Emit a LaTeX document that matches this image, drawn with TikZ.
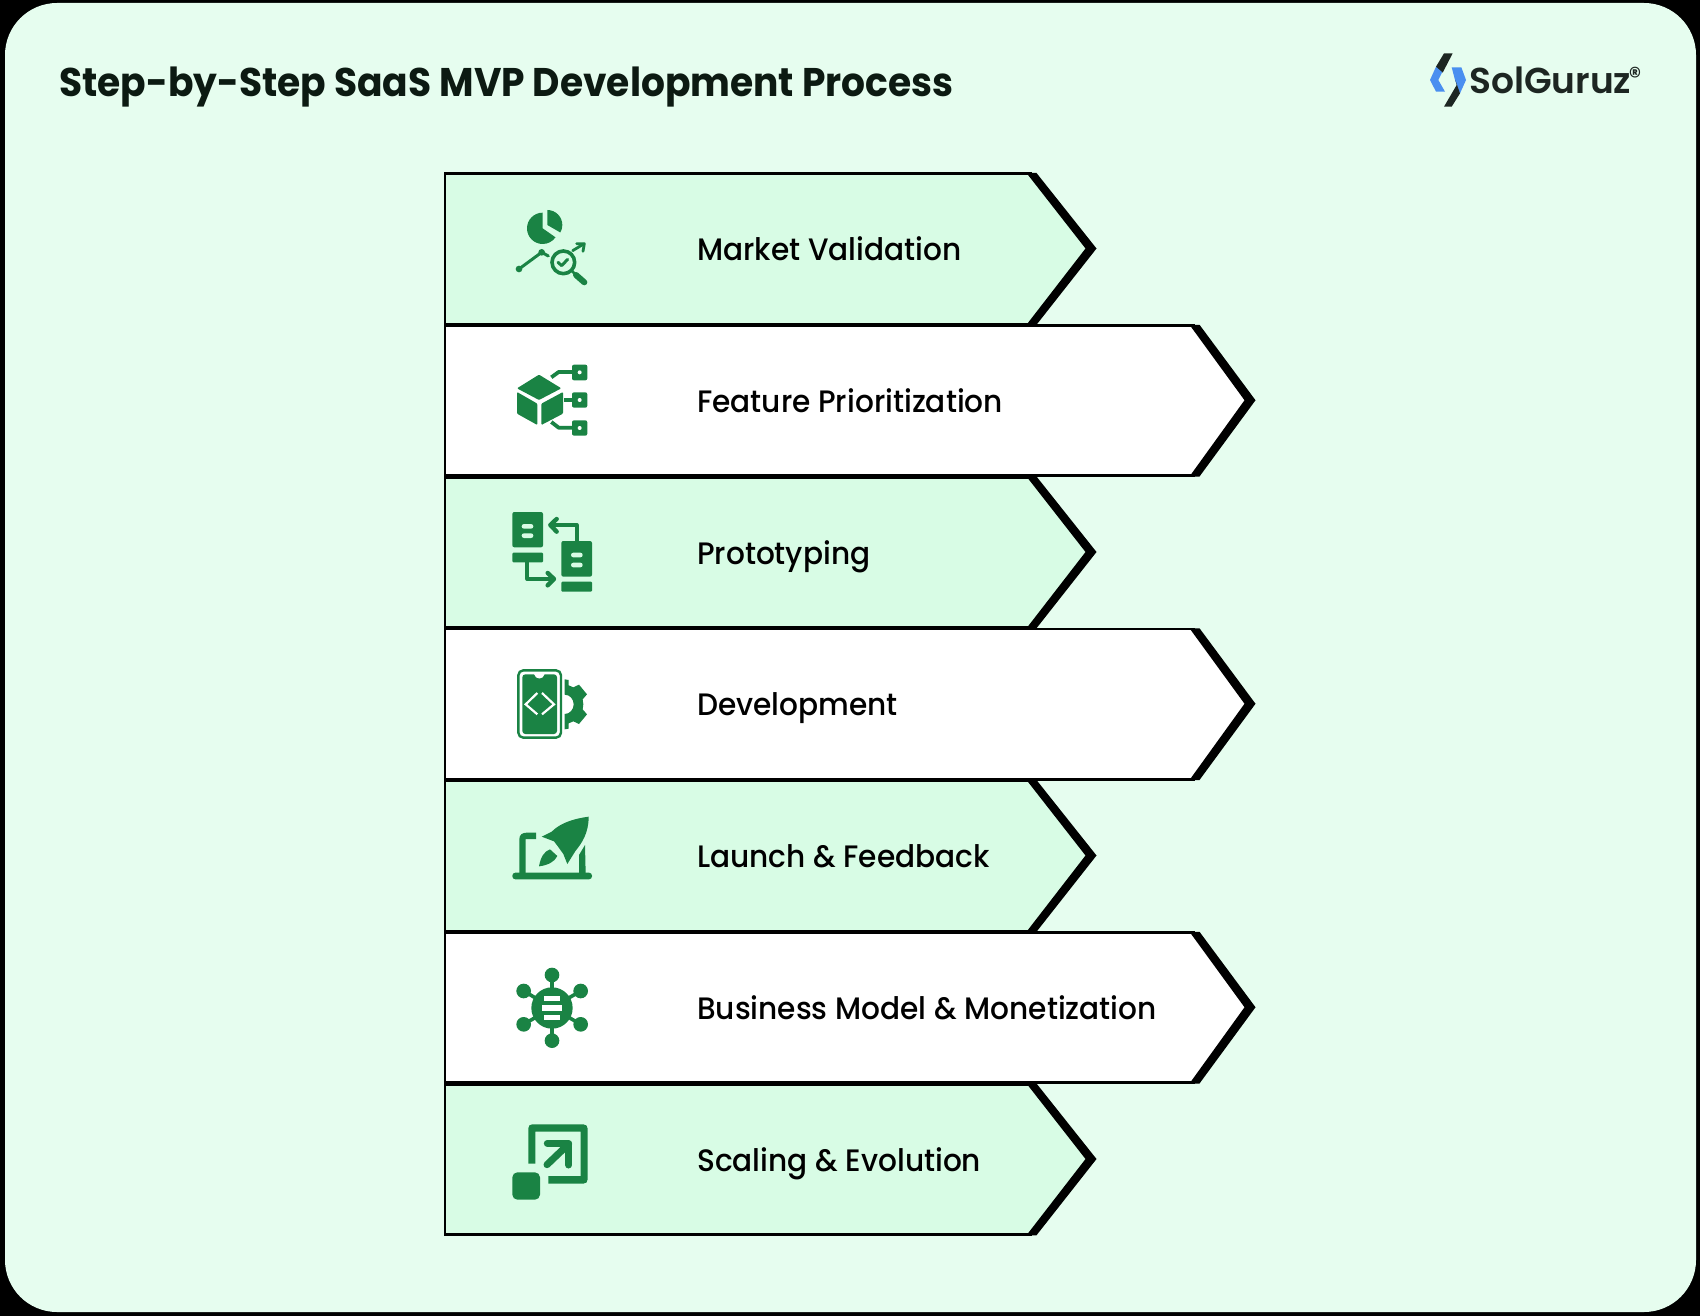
\documentclass[tikz,border=0pt]{standalone}
\usepackage{fontspec}
\setmainfont{Poppins}
\newfontfamily\titlefont[FakeStretch=0.94]{Poppins Bold}
\newfontfamily\logofont{Poppins SemiBold}
\newfontfamily\rowfont[FakeStretch=0.955]{Poppins Medium}
\definecolor{pagebg}{HTML}{E6FDEF}
\definecolor{rowgreen}{HTML}{D8FCE5}
\definecolor{icongreen}{HTML}{1A8344}
\definecolor{inkdark}{HTML}{0C1A12}
\definecolor{logoblue}{HTML}{4A8FF0}
\definecolor{logoink}{HTML}{1D2622}
\tikzset{
  rowtext/.style={anchor=base west,inner sep=0pt,font=\rowfont\fontsize{31}{31}\selectfont,text=black},
  ico/.style={fill=icongreen,draw=none},
  icol/.style={draw=icongreen,fill=none,line cap=round,line join=round},
  zoomA/.style={x=0.33333pt,y=-0.33333pt,shift={(430pt,-160pt)}},
  zoomB/.style={x=0.33333pt,y=-0.33333pt,shift={(430pt,-470pt)}},
  zoomC/.style={x=0.33333pt,y=-0.33333pt,shift={(430pt,-780pt)}},
  zoomD/.style={x=0.33333pt,y=-0.33333pt,shift={(1400pt,-30pt)}}
}
% #1 top y, #2 chevron start x, #3 tip x, #4 fill, #5 node name, #6 text
\newcommand{\steprow}[6]{%
  \pgfmathsetmacro{\rb}{#1+151.75}%
  \pgfmathsetmacro{\rc}{#1+75.5}%
  \fill[#4] (445,#1) -- (#2,#1) -- (#3,\rc) -- (#2,\rb) -- (445,\rb) -- cycle;
  \draw[line width=2.6pt] (#2,#1+0.8) -- (445,#1+0.8) -- (445,\rb-0.8) -- (#2,\rb-0.8);
  \fill[black] ({#2-5},#1) -- ({#2+5},#1) -- ({#3+5.5},\rc) -- ({#2+5},\rb) -- ({#2-5},\rb) -- ({#3-5.5},\rc) -- cycle;
  \node[rowtext] (#5) at (697,\rc+12) {#6};
}
\begin{document}
\begin{tikzpicture}[x=1pt,y=-1pt]
\useasboundingbox (0,0) rectangle (1700,1316);
\fill[black] (0,0) rectangle (1700,1316);
\fill[pagebg,rounded corners=52pt] (5,3) rectangle (1696,1312);
\node[anchor=base west,inner sep=0pt,text=inkdark,font=\titlefont\fontsize{40}{40}\selectfont] (title) at (59,97) {Step-by-Step SaaS MVP Development Process};

\steprow{173}{1031.5}{1091}{rowgreen}{s1}{Market Validation}
\steprow{324.75}{1194.5}{1250}{white}{s2}{Feature Prioritization}
\steprow{476.5}{1031.5}{1091}{rowgreen}{s3}{Prototyping}
\steprow{628.25}{1194.5}{1250}{white}{s4}{Development}
\steprow{780}{1031.5}{1091}{rowgreen}{s5}{Launch \& Feedback}
\steprow{931.75}{1194.5}{1250}{white}{s6}{Business Model \& Monetization}
\steprow{1083.5}{1031.5}{1091}{rowgreen}{s7}{Scaling \& Evolution}

% icon 1
\begin{scope}[zoomA]
\fill[ico] (338,205) -- (338,158) arc[start angle=-90,end angle=-325,radius=47] -- cycle;
\fill[ico] (352,195) -- (352,150) arc[start angle=-90,end angle=30,radius=45] -- cycle;
\fill[ico] (267,327) circle[radius=10];
\fill[ico] (335,277) circle[radius=10];
\draw[icol,line width=3pt] (267,327) -- (335,277) -- (355,288);
\draw[icol,line width=3.6pt] (400,307) circle[radius=34];
\draw[icol,line width=3pt] (384,307) -- (395,317) -- (413,298);
\draw[icol,line width=2.5pt] (425,332) -- (436,343);
\draw[icol,line width=6pt] (438,345) -- (463,367);
\draw[icol,line width=2.8pt] (428,272) -- (461,252);
\draw[icol,line width=2.8pt] (440,251) -- (463,251) -- (459,274);
\end{scope}

% icon 2
\begin{scope}[zoomA]
\fill[ico,rounded corners=1pt] (327,644) -- (394,685) -- (327,720) -- (261,685) -- cycle;
\fill[ico,rounded corners=1pt] (261,696) -- (322,731) -- (322,795) -- (261,761) -- cycle;
\fill[ico,rounded corners=1pt] (334,731) -- (399,696) -- (399,761) -- (334,795) -- cycle;
\draw[icol,line width=3.8pt,line cap=butt] (364,652) -- (386,636) -- (430,636);
\draw[icol,line width=3.8pt,line cap=butt] (403,720) -- (430,720);
\draw[icol,line width=3.8pt,line cap=butt] (364,786) -- (386,803) -- (430,803);
\fill[ico,rounded corners=2pt] (426,614) rectangle (472,661);
\fill[ico,rounded corners=2pt] (426,697) rectangle (472,743);
\fill[ico,rounded corners=2pt] (426,781) rectangle (472,827);
\fill[white] (449,637) circle[radius=6];
\fill[white] (449,720) circle[radius=6];
\fill[white] (449,804) circle[radius=6];
\end{scope}

% icon 3
\begin{scope}[zoomB]
\fill[ico,rounded corners=2pt] (247,126) rectangle (339,232);
\fill[ico,rounded corners=1pt] (247,248) rectangle (339,277);
\fill[ico,rounded corners=2pt] (394,213) rectangle (486,320);
\fill[ico,rounded corners=1pt] (394,335) rectangle (486,365);
\fill[rowgreen,rounded corners=2.3pt] (275,162) rectangle (310,176);
\fill[rowgreen,rounded corners=2.3pt] (275,190) rectangle (310,204);
\fill[rowgreen,rounded corners=2.3pt] (423,248) rectangle (458,262);
\fill[rowgreen,rounded corners=2.3pt] (423,278) rectangle (458,292);
\draw[icol,line width=4pt,line cap=butt] (440,213) -- (440,165) -- (362,165);
\draw[icol,line width=4.4pt] (380,147) -- (361,165) -- (380,185);
\draw[icol,line width=4pt,line cap=butt] (292,277) -- (292,327) -- (370,327);
\draw[icol,line width=4.4pt] (353,309) -- (372,327) -- (353,346);
\end{scope}

% icon 4
\begin{scope}[zoomB]
\draw[draw=icongreen,line width=2.4pt,rounded corners=5pt] (265,601) rectangle (393,803);
\fill[ico,rounded corners=3pt] (277,613) rectangle (381,792);
\fill[white] (312,612) .. controls (316,630) and (340,630) .. (344,612) -- cycle;
\draw[draw=white,line width=2.2pt] (322,669) -- (287,703) -- (322,733);
\draw[draw=white,line width=2.2pt] (336,669) -- (372,703) -- (336,733);
\fill[ico] (404,628) -- (416,630) -- (416,646) -- (430,652) -- (447,644) -- (471,673) -- (458,688) -- (460,703) -- (458,718) -- (471,733) -- (447,762) -- (430,754) -- (416,760) -- (416,776) -- (404,778) -- (404,732) .. controls (420,732) and (431,718) .. (431,703) .. controls (431,688) and (420,674) .. (404,674) -- cycle;
\end{scope}

% icon 5
\begin{scope}[zoomC]
\fill[ico,rounded corners=3pt] (247,278) rectangle (486,298);
\fill[ico] (268,280) -- (268,178) .. controls (268,165) and (276,158) .. (290,158) -- (318,158) -- (318,177) -- (287,177) -- (287,280) -- cycle;
\fill[ico] (447,280) -- (447,225) -- (465,195) -- (467,280) -- cycle;
\fill[ico] (476,110) .. controls (440,115) and (395,125) .. (365,155) -- (335,170) -- (372,184) -- (382,197) -- (400,222) -- (412,252) -- (437,212) .. controls (455,190) and (476,160) .. (476,110) -- cycle;
\fill[ico] (360,208) .. controls (342,214) and (332,232) .. (327,259) .. controls (352,256) and (374,246) .. (382,228) -- cycle;
\end{scope}

% icon 6
\begin{scope}[zoomC]
\fill[ico] (366,684) circle[radius=62];
\draw[icol,line width=3.6pt] (366,585) -- (366,782);
\draw[icol,line width=3.6pt] (281,633) -- (452,733);
\draw[icol,line width=3.6pt] (452,633) -- (281,733);
\foreach \cx/\cy in {366/585,366/782,281/633,452/633,281/733,452/733}{
  \fill[ico] (\cx,\cy) circle[radius=22];
}
\fill[white] (342,649) rectangle (390,664);
\fill[white] (337,676) rectangle (396,692);
\fill[white] (342,705) rectangle (390,720);
\end{scope}

% icon 7
\begin{scope}[zoomC]
\fill[ico,rounded corners=5pt] (247,1177) rectangle (330,1259);
\fill[ico] (295,1151) -- (295,1045) .. controls (295,1037) and (300,1033) .. (307,1033) -- (460,1033) .. controls (468,1033) and (473,1038) .. (473,1046) -- (473,1198) .. controls (473,1206) and (468,1211) .. (460,1211) -- (355,1211) -- (355,1188) -- (452,1188) -- (452,1055) -- (316,1055) -- (316,1151) -- cycle;
\draw[icol,line width=7pt] (351,1154) -- (416,1092);
\draw[icol,line width=7pt] (352,1090) -- (416,1090) -- (416,1155);
\end{scope}

% logo
\begin{scope}[zoomD]
\fill[logoblue] (108,110) -- (135,110) -- (115,150) -- (135,185) -- (108,185) -- (90,150) -- cycle;
\fill[logoblue] (155,112) -- (184,112) -- (198,150) -- (180,190) -- (165,150) -- cycle;
\fill[logoink] (132,70) -- (158,70) -- (128,128) -- (122,122) -- (108,110) -- cycle;
\fill[logoink] (166,150) -- (180,190) -- (155,230) -- (132,230) -- (170,165) -- cycle;
\end{scope}
\node[anchor=base west,inner sep=0pt,text=logoink,font=\logofont\fontsize{36}{36}\selectfont] (logo) at (1469,94) {SolGuruz};
\node[anchor=center,inner sep=0pt,text=logoink,font=\rowfont\fontsize{26}{26}\selectfont] (reg) at (1635,76) {®};
\end{tikzpicture}
\end{document}
